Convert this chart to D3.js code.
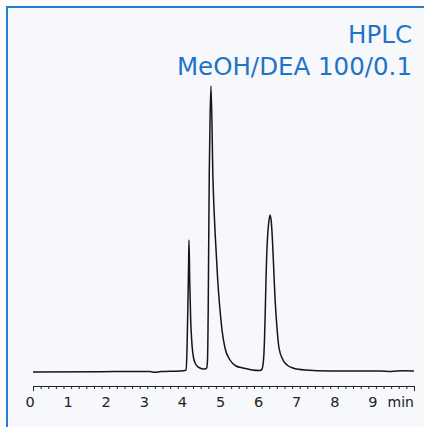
<!DOCTYPE html>
<html>
<head>
<meta charset="utf-8">
<script src="https://cdn.jsdelivr.net/npm/d3@7"></script>
<style>
  html, body { margin: 0; padding: 0; background: #ffffff; }
  svg { display: block; }
</style>
</head>
<body>
<svg id="chart" width="424" height="427"></svg>
<script>
// Chromatogram trace: retention time (min) and detector signal (arbitrary units)
const timeMin = [
  0.00, 1.76, 3.07, 3.20, 3.35, 3.86, 3.99,
  4.016, 4.042, 4.068, 4.086, 4.094, 4.113, 4.139, 4.165, 4.226, 4.304, 4.383, 4.462, 4.514,
  4.559, 4.580, 4.598, 4.612, 4.627, 4.648, 4.672, 4.724, 4.790, 4.848, 4.908, 4.961,
  5.039, 5.171, 5.328, 5.512, 5.748, 5.958,
  6.010, 6.050, 6.076, 6.097, 6.115, 6.134, 6.155, 6.181, 6.220, 6.255, 6.291, 6.325, 6.352, 6.404, 6.457,
  6.562, 6.667, 6.824, 7.139, 7.795, 8.500, 9.108, 9.400, 9.700, 10.00
];
const signal = [
  0.0, 0.3, 0.5, -0.3, 0.4, 1.0, 1.5,
  2, 22, 72, 112, 132, 92, 52, 32, 12, 6, 4, 3, 3,
  4, 12, 60, 130, 200, 255, 286, 192, 132, 92, 62, 42,
  24, 12, 6, 4, 2, 1.5,
  3, 12, 32, 62, 92, 117, 134, 147, 157, 150, 127, 97, 74, 44, 24,
  12, 7, 4, 2, 1, 1, 1, 0.6, 1.2, 1
];

// Axis ticks and captions
const majorTicks = [0, 1, 2, 3, 4, 5, 6, 7, 8, 9];
const minorTicks = d3.range(0, 51).map(i => +(i * 0.2).toFixed(1));
const unitLabel = "min";
const titleLines = ["HPLC", "MeOH/DEA 100/0.1"];

const svg = d3.select("#chart");
const W = 424, H = 427;

// panel background and frame
svg.append("rect").attr("x", 0).attr("y", 0).attr("width", W).attr("height", H).attr("fill", "#fbfcfe");
svg.append("rect").attr("x", 7).attr("y", 7).attr("width", W - 7).attr("height", H - 7).attr("fill", "#f6f8fc");
svg.append("path")
  .attr("d", `M7,${H} L7,7 L${W},7`)
  .attr("fill", "none")
  .attr("stroke", "#2a7dcc")
  .attr("stroke-width", 2);

const x = d3.scaleLinear().domain([0, 10]).range([33, 414]);
const y = d3.scaleLinear().domain([0, 286]).range([372, 86]);

const data = timeMin.map((t, i) => ({ t, s: signal[i] }));

// trace
const line = d3.line()
  .x(d => x(d.t))
  .y(d => y(d.s))
  .curve(d3.curveMonotoneX);

svg.append("path")
  .datum(data)
  .attr("d", line)
  .attr("fill", "none")
  .attr("stroke", "#151515")
  .attr("stroke-width", 1.5)
  .attr("stroke-linejoin", "round");

// time axis
const axisY = 386;
const gMinor = svg.append("g").attr("transform", `translate(0,${axisY})`)
  .call(d3.axisBottom(x).tickValues(minorTicks).tickSize(3).tickSizeOuter(0).tickFormat(""));
const gMajor = svg.append("g").attr("transform", `translate(0,${axisY})`)
  .call(d3.axisBottom(x).tickValues([0, 10]).tickSize(5).tickSizeOuter(0).tickFormat(""));
[gMinor, gMajor].forEach(g => {
  g.selectAll("line").attr("stroke", "#222").attr("stroke-width", 1);
  g.select(".domain").attr("stroke", "#222").attr("stroke-width", 1);
});

svg.append("g").selectAll("text")
  .data(majorTicks)
  .join("text")
  .attr("x", d => x(d) - 3)
  .attr("y", 407)
  .attr("text-anchor", "middle")
  .attr("font-family", "DejaVu Sans, Verdana, sans-serif")
  .attr("font-size", 14.5)
  .attr("fill", "#222")
  .text(d => d);

svg.append("text")
  .attr("x", 414)
  .attr("y", 407)
  .attr("text-anchor", "end")
  .attr("font-family", "DejaVu Sans, Verdana, sans-serif")
  .attr("font-size", 14)
  .attr("fill", "#222")
  .text(unitLabel);

// caption
svg.append("g").selectAll("text")
  .data(titleLines)
  .join("text")
  .attr("x", 412)
  .attr("y", (d, i) => 43 + i * 32)
  .attr("text-anchor", "end")
  .attr("font-family", "DejaVu Sans, Verdana, sans-serif")
  .attr("font-size", 24.5)
  .attr("fill", "#1f74c6")
  .text(d => d);
</script>
</body>
</html>
